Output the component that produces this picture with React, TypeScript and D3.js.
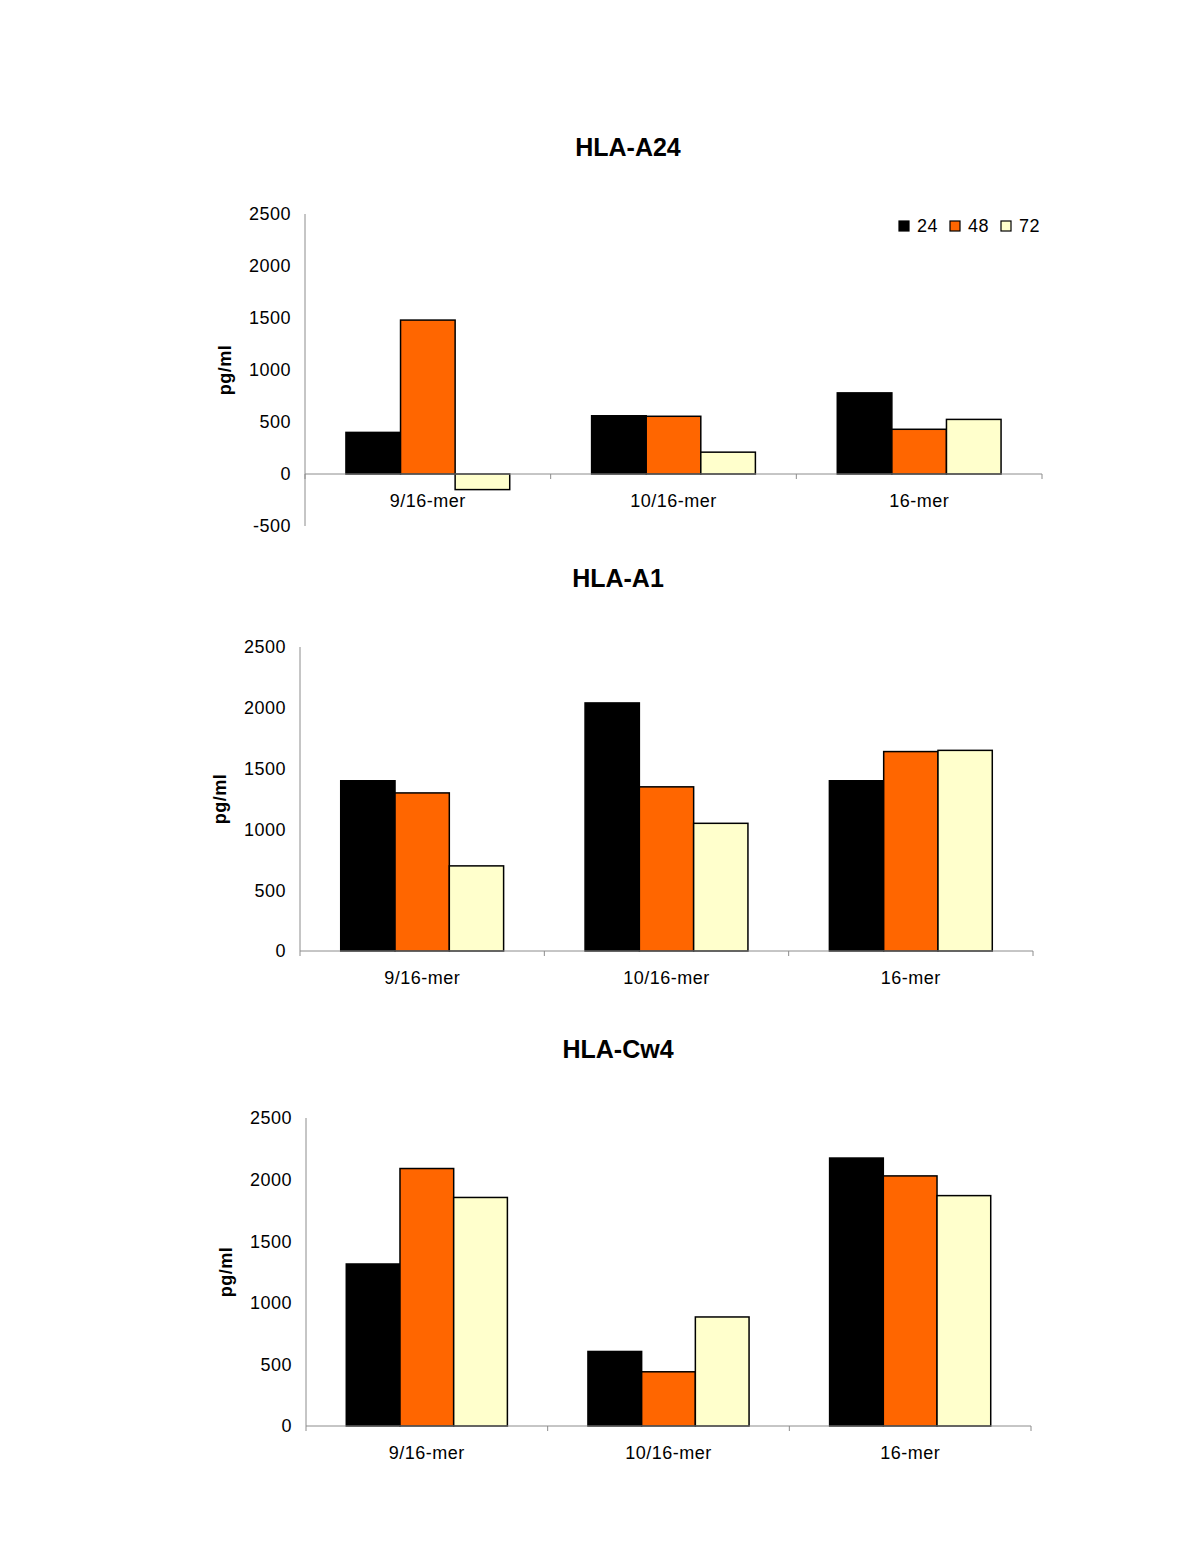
import React from "react";
import * as d3 from "d3";

const categories = ["9/16-mer", "10/16-mer", "16-mer"];
const seriesNames = ["24", "48", "72"];
const seriesColors = ["#000000", "#FF6600", "#FFFFCC"];

// values per category: [24h, 48h, 72h]
const hlaA24 = [
  [400, 1480, -150],
  [560, 555, 210],
  [780, 430, 525],
];
const hlaA1 = [
  [1400, 1300, 700],
  [2040, 1350, 1050],
  [1400, 1640, 1650],
];
const hlaCw4 = [
  [1315, 2090, 1855],
  [605, 440, 885],
  [2175, 2030, 1870],
];

const ticksA24 = [-500, 0, 500, 1000, 1500, 2000, 2500];
const ticksPos = [0, 500, 1000, 1500, 2000, 2500];

const panels = [
  { title: "HLA-A24", data: hlaA24, ticks: ticksA24, domain: [-500, 2500], x0: 305, x1: 1042, yTop: 214, yBot: 526, titleX: 628, titleY: 156, legend: true },
  { title: "HLA-A1", data: hlaA1, ticks: ticksPos, domain: [0, 2500], x0: 300, x1: 1033, yTop: 647, yBot: 951, titleX: 618, titleY: 587, legend: false },
  { title: "HLA-Cw4", data: hlaCw4, ticks: ticksPos, domain: [0, 2500], x0: 306, x1: 1031, yTop: 1118, yBot: 1426, titleX: 618, titleY: 1058, legend: false },
];

const FONT = "'Liberation Sans', Arial, Helvetica, sans-serif";
const FS = 18;
const LS = 0.5;

function Panel({ p }: { p: any }) {
  const y = d3.scaleLinear().domain(p.domain).range([p.yBot, p.yTop]);
  const x = d3.scaleBand<string>().domain(categories).range([p.x0, p.x1]).paddingInner(0).paddingOuter(0);
  const xs = d3.scaleBand<string>().domain(seriesNames).range([0, x.bandwidth()]).paddingInner(0).paddingOuter(0.75);
  const y0 = y(0);
  const catEdges = [...categories.map((c) => x(c) as number), p.x1];
  return (
    <g>
      <text x={p.titleX} y={p.titleY} textAnchor="middle" fontFamily={FONT} fontWeight="bold" fontSize={25} fill="#000">
        {p.title}
      </text>
      {/* y axis */}
      <line x1={p.x0} x2={p.x0} y1={p.yTop} y2={p.yBot} stroke="#8c8c8c" strokeWidth={1} />
      {p.ticks.map((t: number) => (
        <text key={t} x={p.x0 - 14} y={y(t)} dy="0.35em" textAnchor="end" fontFamily={FONT} fontSize={FS} letterSpacing={LS} fill="#000">
          {t}
        </text>
      ))}
      <text
        transform={`translate(${p.x0 - 80},${(p.yTop + p.yBot) / 2}) rotate(-90)`}
        textAnchor="middle"
        dy="0.35em"
        fontFamily={FONT}
        fontWeight="bold"
        fontSize={FS}
        letterSpacing={LS}
        fill="#000"
      >
        pg/ml
      </text>
      {/* bars */}
      {categories.map((c, ci) =>
        seriesNames.map((s, si) => {
          const v = p.data[ci][si];
          const bx = (x(c) as number) + (xs(s) as number);
          const top = Math.min(y(v), y0);
          const h = Math.abs(y(v) - y0);
          return (
            <rect key={c + s} x={bx} y={top} width={xs.bandwidth()} height={h} fill={seriesColors[si]} stroke="#000" strokeWidth={1.5} />
          );
        })
      )}
      {/* x axis */}
      <line x1={p.x0} x2={p.x1} y1={y0} y2={y0} stroke="#8c8c8c" strokeWidth={1} />
      {catEdges.map((e, i) => (
        <line key={i} x1={e} x2={e} y1={y0} y2={y0 + 5} stroke="#8c8c8c" strokeWidth={1} />
      ))}
      {categories.map((c) => (
        <text key={c} x={(x(c) as number) + x.bandwidth() / 2} y={y0 + 33} textAnchor="middle" fontFamily={FONT} fontSize={FS} letterSpacing={LS} fill="#000">
          {c}
        </text>
      ))}
      {p.legend && (
        <g>
          {seriesNames.map((s, i) => (
            <g key={s} transform={`translate(${899 + i * 51},221)`}>
              <rect x={0} y={0} width={10} height={10} fill={seriesColors[i]} stroke="#000" strokeWidth={1.2} />
              <text x={18} y={5} dy="0.35em" fontFamily={FONT} fontSize={FS} letterSpacing={LS} fill="#000">
                {s}
              </text>
            </g>
          ))}
        </g>
      )}
    </g>
  );
}

export default function App() {
  return (
    <div style={{ position: "absolute", left: 0, top: 0 }}>
      <svg width={1200} height={1554} style={{ display: "block", background: "#fff" }}>
        <rect x={0} y={0} width={1200} height={1554} fill="#fff" />
        {panels.map((p) => (
          <Panel key={p.title} p={p} />
        ))}
      </svg>
    </div>
  );
}
